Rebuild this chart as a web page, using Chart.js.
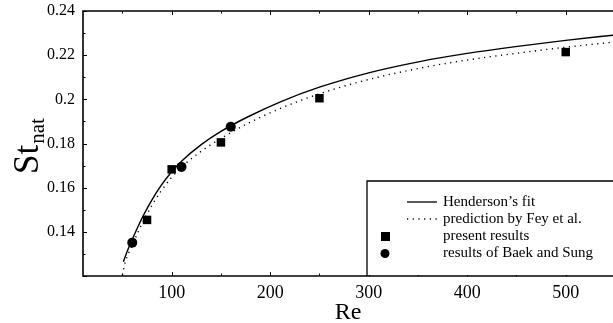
<!DOCTYPE html>
<html>
<head>
<meta charset="utf-8">
<script src="https://cdn.jsdelivr.net/npm/chart.js@4"></script>
<style>
html,body{margin:0;padding:0;background:#fff;overflow:hidden;}
#wrap{width:613px;height:323px;}
canvas{display:block;}
</style>
</head>
<body>
<div id="wrap"><canvas id="chart" width="613" height="323"></canvas></div>
<script>

/* DATA */

const reFit=[51,55,60,66,72,80,89,100,110,130,150,177,211,250,300,353,400,451,500,549];
const stFit=[0.1265,0.1313,0.1365,0.1425,0.1480,0.1545,0.1608,0.1672,0.1720,0.1795,0.1855,0.1920,0.1990,0.2055,0.2120,0.2172,0.2208,0.2240,0.2267,0.2291];

const reFey=[50,53,56,60,66,72,80,89,100,110,130,150,177,211,250,300,353,400,451,500,548];
const stFey=[0.1205,0.1265,0.1300,0.1340,0.1400,0.1455,0.1520,0.1583,0.1647,0.1693,0.1765,0.1823,0.1890,0.1960,0.2025,0.2090,0.2142,0.2178,0.2209,0.2236,0.2259];

const reSquares=[75,100,150,250,500];
const stSquares=[0.1454,0.1683,0.1805,0.2005,0.2214];

const reCircles=[60,110,160];
const stCircles=[0.1351,0.1694,0.1876];

const xTicks=[100,200,300,400,500];
const xMinor=[50,150,250,350,450];
const yTicks=[0.12,0.14,0.16,0.18,0.2,0.22,0.24];
const yMinor=[0.13,0.15,0.17,0.19,0.21,0.23];

const legendNames=["Henderson\u2019s fit","prediction by Fey et al.","present results","results of Baek and Sung"];

const SERIF="'Liberation Serif','Times New Roman',serif";

function pts(xs,ys){
return xs.map((x,i)=>({x:x,y:ys[i]}));
}

/* keep the plot box fixed, no extra label padding */
function fixBox(s,size){
if(s.isHorizontal()){s.height=size;}else{s.width=size;}
s.paddingTop=0;s.paddingBottom=0;s.paddingLeft=0;s.paddingRight=0;
}


/* AXIS FRAME, TICKS, TITLES AND LEGEND */

const decor={
id:"decor",
afterDraw(chart){
const ctx=chart.ctx;
const a=chart.chartArea;
const xs=chart.scales.x;
const ys=chart.scales.y;

ctx.save();
ctx.strokeStyle="#000";
ctx.fillStyle="#000";

/* frame: left, bottom, top */
ctx.lineWidth=1.6;
ctx.beginPath();
ctx.moveTo(a.right,a.top);
ctx.lineTo(a.left,a.top);
ctx.lineTo(a.left,a.bottom);
ctx.lineTo(a.right,a.bottom);
ctx.stroke();

/* inward ticks */
ctx.lineWidth=1;
ctx.beginPath();
xTicks.concat(xMinor).forEach(v=>{
const px=Math.round(xs.getPixelForValue(v))+0.5;
const len=xTicks.includes(v)?4:2.5;
ctx.moveTo(px,a.bottom);ctx.lineTo(px,a.bottom-len);
ctx.moveTo(px,a.top);ctx.lineTo(px,a.top+len);
});
yTicks.concat(yMinor).forEach(v=>{
const py=Math.round(ys.getPixelForValue(v))+0.5;
const len=yTicks.includes(v)?4:2.5;
ctx.moveTo(a.left,py);ctx.lineTo(a.left+len,py);
});
ctx.stroke();

/* x title */
ctx.font="24px "+SERIF;
ctx.textAlign="center";
ctx.textBaseline="alphabetic";
ctx.fillText("Re",348,319);

/* y title with subscript */
ctx.save();
ctx.translate(38,174);
ctx.rotate(-Math.PI/2);
ctx.textAlign="left";
ctx.font="35px "+SERIF;
ctx.fillText("St",0,0);
const w=ctx.measureText("St").width;
ctx.font="21px "+SERIF;
ctx.fillText("nat",w+1,6);
ctx.restore();

/* legend box */
const bx=367,by=181;
ctx.lineWidth=1.3;
ctx.beginPath();
ctx.moveTo(bx,a.bottom);
ctx.lineTo(bx,by);
ctx.lineTo(a.right,by);
ctx.stroke();
ctx.fillStyle="#fff";
ctx.fillRect(bx+1,by+1,a.right-bx-1,a.bottom-by-2);
ctx.fillStyle="#000";

const rows=[202,219,236.5,253.5];
ctx.font="15px "+SERIF;
ctx.textAlign="left";
ctx.textBaseline="middle";
legendNames.forEach((t,i)=>ctx.fillText(t,443,rows[i]));

ctx.lineWidth=1.3;
ctx.beginPath();
ctx.moveTo(407,rows[0]);ctx.lineTo(437,rows[0]);
ctx.stroke();
ctx.lineWidth=1.3;
ctx.setLineDash([1.2,4.5]);
ctx.beginPath();
ctx.moveTo(407,rows[1]);ctx.lineTo(437,rows[1]);
ctx.stroke();
ctx.setLineDash([]);
ctx.fillRect(381,rows[2]-4.5,9,9);
ctx.beginPath();
ctx.arc(385,rows[3],4.5,0,Math.PI*2);
ctx.fill();

ctx.restore();
}
};


/* CHART */

new Chart(document.getElementById("chart"),{
type:"scatter",
data:{
datasets:[
{
label:legendNames[0],
data:pts(reFit,stFit),
showLine:true,
borderColor:"#000",
borderWidth:1.4,
pointRadius:0,
cubicInterpolationMode:"monotone"
},
{
label:legendNames[1],
data:pts(reFey,stFey),
showLine:true,
borderColor:"#000",
borderWidth:1.4,
borderDash:[1.2,4.5],
pointRadius:0,
cubicInterpolationMode:"monotone"
},
{
label:legendNames[2],
data:pts(reSquares,stSquares),
pointStyle:"rect",
pointRadius:6,
backgroundColor:"#000",
borderColor:"#000",
borderWidth:0
},
{
label:legendNames[3],
data:pts(reCircles,stCircles),
pointStyle:"circle",
pointRadius:5,
backgroundColor:"#000",
borderColor:"#000",
borderWidth:0
}
]
},
options:{
responsive:false,
animation:false,
layout:{autoPadding:false,padding:{top:11,right:0,left:0,bottom:0}},
plugins:{
legend:{display:false},
tooltip:{enabled:false}
},
scales:{
x:{
type:"linear",
min:10,
max:548,
afterBuildTicks:s=>{s.ticks=xTicks.map(v=>({value:v}));},
afterFit:s=>fixBox(s,47),
grid:{display:false,drawTicks:false},
border:{display:false},
ticks:{
color:"#000",
padding:6,
font:{family:SERIF,size:18}
}
},
y:{
min:0.12,
max:0.24,
afterBuildTicks:s=>{s.ticks=yTicks.map(v=>({value:v}));},
afterFit:s=>fixBox(s,83),
grid:{display:false,drawTicks:false},
border:{display:false},
ticks:{
color:"#000",
padding:8,
font:{family:SERIF,size:16},
callback:v=>v<0.13?"":String(+v.toFixed(2))
}
}
}
},
plugins:[decor]
});

</script>
</body>
</html>
